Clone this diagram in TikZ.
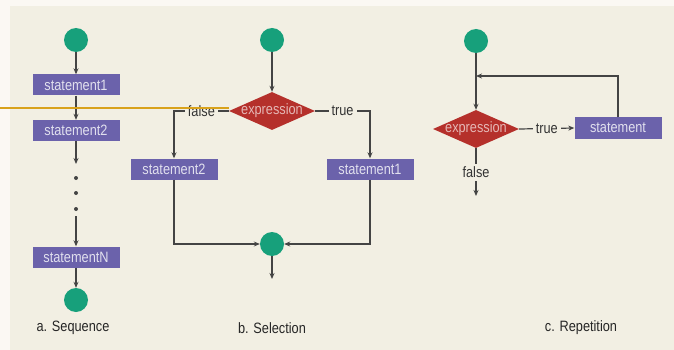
\documentclass[tikz,border=0pt]{standalone}
\usepackage{fontspec}
\setmainfont{Liberation Sans}
\newfontfamily\condfont[FakeStretch=0.85]{Liberation Sans}
\usepackage{xcolor}
\usetikzlibrary{calc}
\usetikzlibrary{arrows.meta,shapes.geometric}

\definecolor{bgpanel}{HTML}{F2EFE3}
\definecolor{bgframe}{HTML}{FBF8F3}
\definecolor{flowgreen}{HTML}{17A07B}
\definecolor{flowpurple}{HTML}{6B62AB}
\definecolor{flowred}{HTML}{B5302B}
\definecolor{flowline}{HTML}{444444}
\definecolor{markline}{HTML}{D9A21B}

\begin{document}
\begin{tikzpicture}[x=1pt,y=-1pt,
   font=\condfont\fontsize{15}{17}\selectfont,
   dot/.style={circle,fill=flowgreen,minimum size=24pt,inner sep=0pt},
   stmt/.style={rectangle,fill=flowpurple,text=white!80!flowpurple,
      minimum width=87pt,minimum height=21pt,inner sep=0pt},
   test/.style={diamond,fill=flowred,text=white!65!flowred,aspect=2.26,
      minimum width=86pt,minimum height=38pt,inner sep=-1.5pt},
   pause/.style={circle,fill=flowline,minimum size=4pt,inner sep=0pt},
   flow/.style={draw=flowline,line width=1.2pt,-{Stealth[length=6pt,width=5pt]}},
   tag/.style={fill=bgpanel,text=black!80,inner sep=3pt},
   caption/.style={text=black!85}]
\useasboundingbox (0,0) rectangle (674,350);
\fill[bgframe] (0,0) rectangle (674,350);
\fill[bgpanel] (10,6) rectangle (674,350);

% a. Sequence
\node[dot] (a0) at (76,40) {};
\node[stmt] (a1) at (76,85) {statement1};
\node[stmt] (a2) at (76,130.5) {statement2};
\coordinate (a3) at (76,164);
\node[pause] (p1) at (76,178) {};
\node[pause] (p2) at (76,193) {};
\node[pause] (p3) at (76,209) {};
\coordinate (a4) at (76,216);
\node[stmt] (aN) at (76,257) {statementN};
\node[dot] (a9) at (76,300) {};
\draw[flow] (a0) -- (a1);
\draw[flow] (a1) -- (a2);
\draw[flow] (a2) -- (a3);
\draw[flow] (a4) -- (aN);
\draw[flow] (aN) -- (a9);
\node[caption] (capa) at (73,328) {a. Sequence};

% b. Selection
\node[dot] (b0) at (272,40) {};
\node[test] (bx) at (272,111) {expression};
\node[stmt] (b2) at (174,169) {statement2};
\node[stmt] (b1) at (370,169) {statement1};
\node[dot] (b9) at (272,244) {};
\coordinate (bout) at (272,279);
\draw[flow] (b0) -- (bx);
\draw[flow] (bx.west) -| node[tag,pos=0.25] {false} (b2);
\draw[flow] (bx.east) -| node[tag,pos=0.25] {true} (b1);
\draw[flow] (b2) |- (b9);
\draw[flow] (b1) |- (b9);
\draw[flow] (b9) -- (bout);
\node[caption] (capb) at (272,328) {b. Selection};

% c. Repetition
\node[dot] (c0) at (476,41) {};
\node[test] (cx) at (476,129) {expression};
\node[stmt] (cs) at (618,128) {statement};
\coordinate (cl) at (476,76);
\coordinate (cout) at (476,196);
\draw[flow] (c0) -- (cx);
\draw[flow] (cs.north) |- (cl);
\draw[flow] (cx.east) -- node[tag] {true} (cs.west);
\draw[flow] (cx.south) -- node[tag] {false} (cout);
\node[caption] (capc) at (581,328) {c. Repetition};

\coordinate (mark) at (0,108);
\draw[markline,line width=1.5pt] (mark) -- (mark -| bx.west);
\end{tikzpicture}
\end{document}
